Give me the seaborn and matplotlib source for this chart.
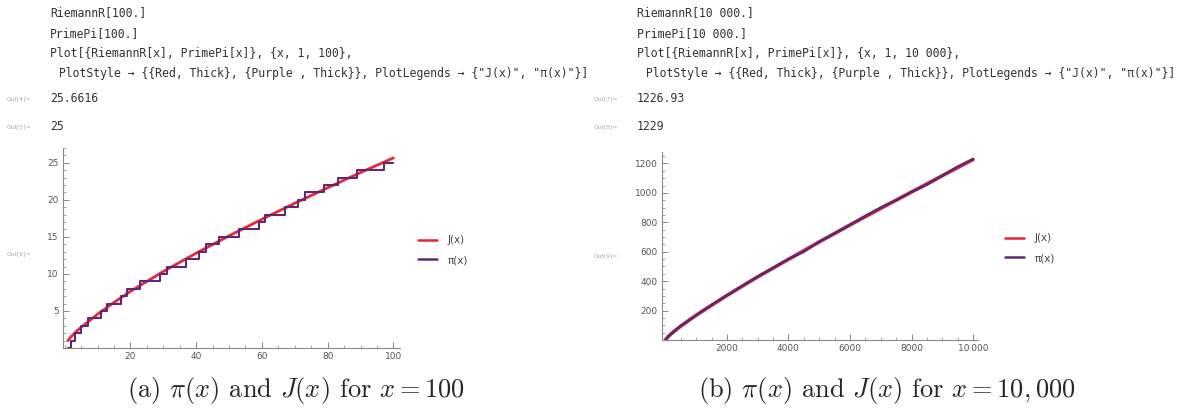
import numpy as np
import matplotlib.pyplot as plt
import seaborn as sns
import pandas as pd
from matplotlib.ticker import FixedLocator, MultipleLocator
from matplotlib.lines import Line2D

sns.set_theme(style="white")
plt.rcParams["mathtext.fontset"] = "cm"

# left panel data: steps of pi(x) at the primes, J(x)
primes = [2, 3, 5, 7, 11, 13, 17, 19, 23, 29, 31, 37, 41, 43, 47, 53, 59, 61, 67, 71,
          73, 79, 83, 89, 97]
pi_x_small = [1] + primes + [100]
pi_y_small = list(range(0, 26)) + [25]
j_x_small = [1, 2, 3, 5, 7, 10, 15, 20, 30, 40, 50, 60, 70, 80, 90, 100]
j_y_small = [1.0, 1.54, 2.0, 2.8, 3.5, 4.56, 6.15, 7.64, 10.33, 12.8, 15.14, 17.38,
             19.54, 21.64, 23.69, 25.66]

# right panel data
pi_x_big = [1, 100, 250, 500, 1000, 1500, 2000, 2500, 3000, 3500, 4000, 4500, 5000,
            5500, 6000, 6500, 7000, 7500, 8000, 8500, 9000, 9500, 10000]
pi_y_big = [0, 25, 53, 95, 168, 239, 303, 367, 430, 489, 550, 601, 669,
            724, 783, 843, 900, 950, 1007, 1056, 1117, 1178, 1229]
j_x_big = [1, 100, 250, 500, 1000, 2000, 3000, 4000, 5000, 6000, 7000, 8000, 9000, 10000]
j_y_big = [1, 25.7, 53.2, 94.8, 168.4, 303.0, 429.6, 548.4, 666.5, 782.0, 895.0,
           1006.0, 1117.0, 1226.9]

code_a = ["RiemannR[100.]", "PrimePi[100.]", "Plot[{RiemannR[x], PrimePi[x]}, {x, 1, 100},",
          ' PlotStyle → {{Red, Thick}, {Purple , Thick}}, PlotLegends → {"J(x)", "π(x)"}]']
code_b = ["RiemannR[10 000.]", "PrimePi[10 000.]", "Plot[{RiemannR[x], PrimePi[x]}, {x, 1, 10 000},",
          ' PlotStyle → {{Red, Thick}, {Purple , Thick}}, PlotLegends → {"J(x)", "π(x)"}]']
outs_a = [("Out[4]=", "25.6616"), ("Out[5]=", "25")]
outs_b = [("Out[7]=", "1226.93"), ("Out[8]=", "1229")]

RED = "#e8263a"
PURPLE = "#5c2a70"
W, H = 1192, 413

fig = plt.figure(figsize=(W / 100, H / 100), dpi=100)
fig.patch.set_facecolor("white")


def px(x, y):
    return x / W, 1 - y / H


def style_axes(ax):
    for s in ["top", "right"]:
        ax.spines[s].set_visible(False)
    for s in ["left", "bottom"]:
        ax.spines[s].set_color("#8a8a8a")
        ax.spines[s].set_linewidth(0.8)
    ax.tick_params(which="both", bottom=True, left=True, top=False, right=False)
    ax.tick_params(which="major", direction="in", length=4, width=0.7, color="#8a8a8a",
                   labelsize=6.5, labelcolor="#555555", pad=3)
    ax.tick_params(which="minor", direction="in", length=2.2, width=0.6, color="#9a9a9a")
    ax.set_facecolor("white")
    ax.grid(False)
    ax.set_xlabel("")
    ax.set_ylabel("")


def panel(x0, code, outs, out_plot_y):
    for i, line in enumerate(code):
        fig.text(*px(x0 + (2 if i == 3 else 0), 13 + i * 20.3), line, fontsize=8.3,
                 family="DejaVu Sans Mono", color="#333333", va="center")
    for i, (lab, val) in enumerate(outs):
        y = 99 + i * 28
        fig.text(*px(x0 - 43, y), lab, fontsize=4.3, color="#aaaaaa", va="center")
        fig.text(*px(x0, y), val, fontsize=8.3, family="DejaVu Sans Mono",
                 color="#333333", va="center")
    fig.text(*px(x0 - 43, out_plot_y), "Out[%d]=" % (int(outs[-1][0][4]) + 1), fontsize=4.3,
             color="#aaaaaa", va="center")


# ---- left panel ----
panel(50, code_a, outs_a, 254)
ax1 = fig.add_axes([63 / W, 1 - 348 / H, (400 - 63) / W, (348 - 148) / H])
sns.lineplot(x=j_x_small, y=j_y_small, color=RED, lw=2.0, ax=ax1)
sns.lineplot(x=pi_x_small, y=pi_y_small, color=PURPLE, lw=1.5, drawstyle="steps-post", ax=ax1)
ax1.set_xlim(-0.5, 102)
ax1.set_ylim(0, 27)
ax1.xaxis.set_major_locator(FixedLocator([20, 40, 60, 80, 100]))
ax1.xaxis.set_minor_locator(MultipleLocator(5))
ax1.yaxis.set_major_locator(FixedLocator([5, 10, 15, 20, 25]))
ax1.yaxis.set_minor_locator(MultipleLocator(1))
style_axes(ax1)

# ---- right panel ----
panel(637, code_b, outs_b, 256)
ax2 = fig.add_axes([662 / W, 1 - 340 / H, (978 - 662) / W, (340 - 152) / H])
sns.lineplot(x=j_x_big, y=j_y_big, color=RED, lw=2.6, ax=ax2)
sns.lineplot(x=pi_x_big, y=pi_y_big, color=PURPLE, lw=1.8, ax=ax2)
ax2.set_xlim(-110, 10160)
ax2.set_ylim(0, 1278)
ax2.xaxis.set_major_locator(FixedLocator([2000, 4000, 6000, 8000, 10000]))
ax2.set_xticklabels(["2000", "4000", "6000", "8000", "10\u2009000"])
ax2.xaxis.set_minor_locator(MultipleLocator(500))
ax2.yaxis.set_major_locator(FixedLocator([200, 400, 600, 800, 1000, 1200]))
ax2.yaxis.set_minor_locator(MultipleLocator(50))
style_axes(ax2)

# legends
handles = [Line2D([], [], color=RED, lw=1.8), Line2D([], [], color=PURPLE, lw=1.8)]
labels = ["J(x)", "π(x)"]
for ax, (lx, ly) in [(ax1, (413, 230)), (ax2, (1000, 228))]:
    ax.legend(handles, labels, loc="upper left", bbox_to_anchor=px(lx, ly),
              bbox_transform=fig.transFigure, frameon=False, fontsize=7.5,
              handlelength=1.8, handletextpad=1.0, labelspacing=0.95, borderpad=0,
              labelcolor="#444444")

# captions
fig.text(*px(296, 391), r"(a) $\pi(x)$ and $J(x)$ for $x = 100$", ha="center", va="center",
         fontsize=19, family="cmr10")
fig.text(*px(887, 391), r"(b) $\pi(x)$ and $J(x)$ for $x = 10,000$", ha="center", va="center",
         fontsize=19, family="cmr10")

fig.savefig("out.png", dpi=100, facecolor="white")
